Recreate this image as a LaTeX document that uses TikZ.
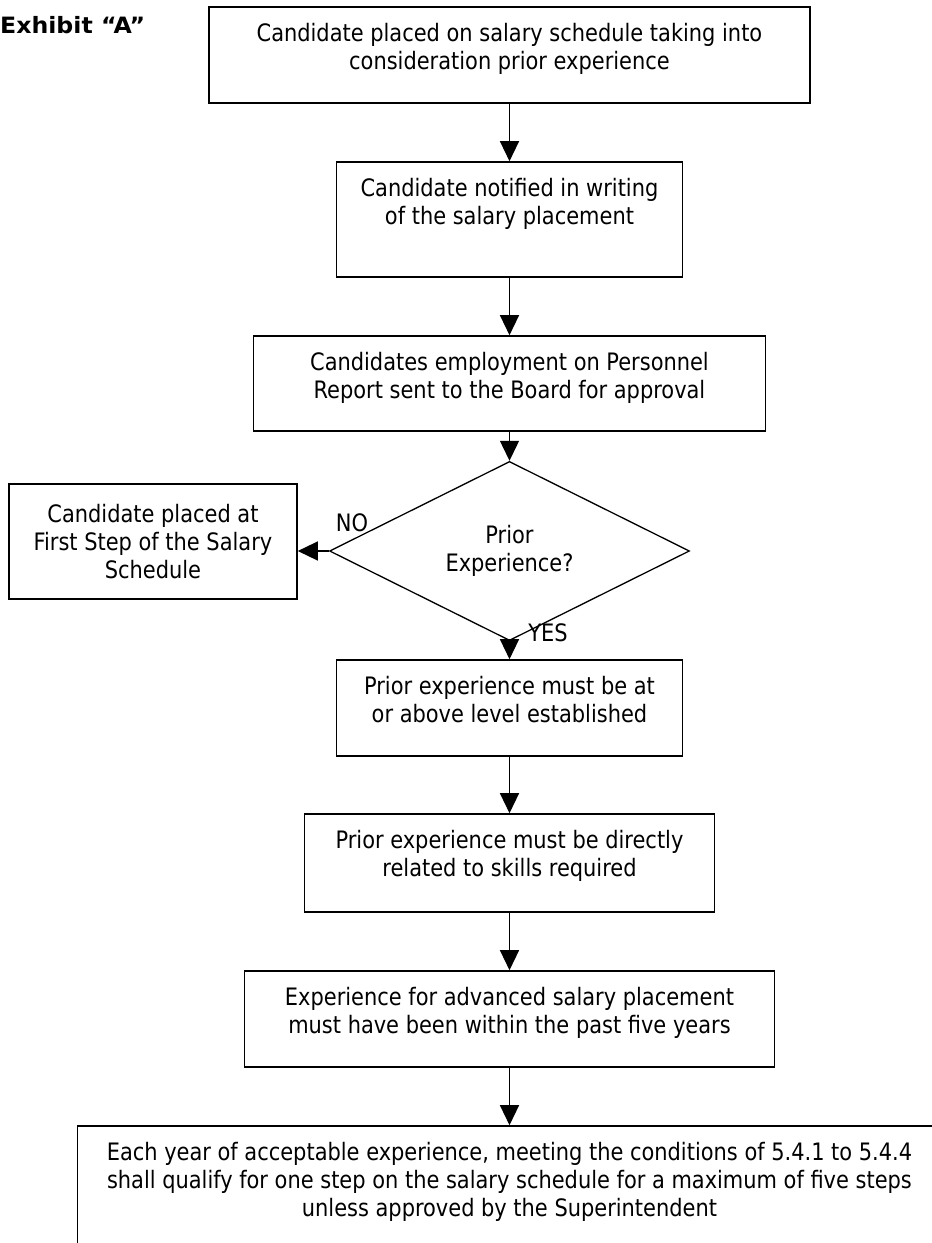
\documentclass[tikz,border=0pt]{standalone}
\usepackage{fontspec}
\setmainfont[FakeStretch=0.97]{DejaVu Sans Condensed}
\newfontfamily\exfont[FakeStretch=1.05]{DejaVu Sans}
\usetikzlibrary{arrows.meta,shapes.geometric,calc}
\begin{document}
\begin{tikzpicture}[x=1pt,y=-1pt,
  every node/.style={font=\fontsize{24}{28}\selectfont},
  box/.style={draw, line width=1.6pt, rectangle, inner sep=0pt},
  txt/.style={align=center, inner sep=0pt, anchor=north},
  conn/.style={line width=1.3pt, -{Triangle[length=20pt,width=19pt]}},
  lbl/.style={inner sep=0pt}
  ]
\useasboundingbox (0,0) rectangle (932,1243);
\clip (0,0) rectangle (932,1243);

\node[anchor=west, inner sep=0pt, font=\exfont\fontsize{22.5}{26}\selectfont\bfseries] (ex) at (0,25) {Exhibit “A”};

\node[box, minimum width=601pt, minimum height=96pt] (b1) at (509.5,55) {};
\node[txt] (t1) at ($(b1.north)+(0,17)$) {Candidate placed on salary schedule taking into\\consideration prior experience};

\node[box, minimum width=346pt, minimum height=115pt] (b2) at (509.5,219.5) {};
\node[txt] (t2) at ($(b2.north)+(0,17)$) {Candidate notified in writing\\of the salary placement};

\node[box, minimum width=512pt, minimum height=95pt] (b3) at (509.5,383.5) {};
\node[txt] (t3) at ($(b3.north)+(0,17)$) {Candidates employment on Personnel\\Report sent to the Board for approval};

\node[draw, diamond, line width=1.3pt, minimum width=360pt, minimum height=136pt, inner sep=0pt, align=center] (dia) at (509.5,551) {Prior\\Experience?};

\node[box, minimum width=288pt, minimum height=115pt, align=center] (lb) at (153,541.5) {Candidate placed at\\First Step of the Salary\\Schedule};

\node[lbl] (no) at (352,523) {NO};
\node[lbl] (yes) at (548,633) {YES};

\node[box, minimum width=346pt, minimum height=96pt] (b4) at (509.5,708) {};
\node[txt] (t4) at ($(b4.north)+(0,17)$) {Prior experience must be at\\or above level established};

\node[box, minimum width=410pt, minimum height=98pt] (b5) at (509.5,863) {};
\node[txt] (t5) at ($(b5.north)+(0,17)$) {Prior experience must be directly\\related to skills required};

\node[box, minimum width=530pt, minimum height=96pt] (b6) at (509.5,1019) {};
\node[txt] (t6) at ($(b6.north)+(0,17)$) {Experience for advanced salary placement\\must have been within the past five years};

\node[box, minimum width=864pt, minimum height=140pt] (b7) at (509.5,1196) {};
\node[txt] (t7) at ($(b7.north)+(0,17)$) {Each year of acceptable experience, meeting the conditions of 5.4.1 to 5.4.4\\shall qualify for one step on the salary schedule for a maximum of five steps\\unless approved by the Superintendent};

\draw[conn] (b1) -- (b2);
\draw[conn] (b2) -- (b3);
\draw[conn] (b3) -- (dia);
\draw[conn] (dia.west) -- (dia.west -| lb.east);
\draw[conn] (dia) -- (b4);
\draw[conn] (b4) -- (b5);
\draw[conn] (b5) -- (b6);
\draw[conn] (b6) -- (b7);
\end{tikzpicture}
\end{document}
